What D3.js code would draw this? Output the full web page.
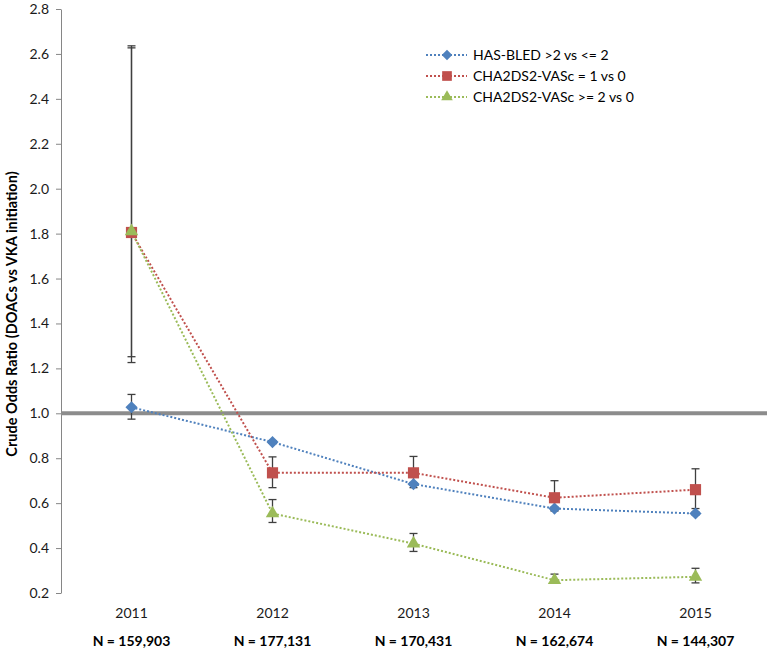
<!DOCTYPE html>
<html><head><meta charset="utf-8">
<script src="https://cdn.jsdelivr.net/npm/d3@7"></script>
<style>
body{margin:0;background:#fff}
text{font-family:Lato,"Open Sans",sans-serif}
</style>
</head><body>
<svg id="c" width="767" height="649"></svg>
<script>
const years = ["2011","2012","2013","2014","2015"];
const nLabels = ["N = 159,903","N = 177,131","N = 170,431","N = 162,674","N = 144,307"];
const yTicks = [0.2,0.4,0.6,0.8,1.0,1.2,1.4,1.6,1.8,2.0,2.2,2.4,2.6,2.8];
const seriesNames = ["HAS-BLED >2 vs <= 2","CHA2DS2-VASc = 1 vs 0","CHA2DS2-VASc >= 2 vs 0"];
const hasbledVal = [1.027,0.872,0.685,0.576,0.554];
const hasbledLo  = [0.974,0.866,0.679,0.570,0.548];
const hasbledHi  = [1.084,0.878,0.691,0.582,0.560];
const cha1Val = [1.805,0.735,0.735,0.624,0.660];
const cha1Lo  = [1.226,0.669,0.669,0.565,0.576];
const cha1Hi  = [2.636,0.806,0.808,0.700,0.753];
const cha2Val = [1.810,0.554,0.420,0.257,0.272];
const cha2Lo  = [1.252,0.514,0.385,0.245,0.245];
const cha2Hi  = [2.627,0.616,0.465,0.284,0.310];
const refValue = 1.0;

const svg = d3.select("#c");
const mLeft = 61, mRight = 766, mTop = 9, mBottom = 593;
const x = d3.scaleBand().domain(years).range([mLeft, mRight]);
const y = d3.scaleLinear().domain([0.2, 2.8]).range([mBottom, mTop]);
const cx = d => x(d) + x.bandwidth()/2;

const series = [
  {name: seriesNames[0], val: hasbledVal, lo: hasbledLo, hi: hasbledHi, color: "#4F81BD", shape: "diamond"},
  {name: seriesNames[1], val: cha1Val, lo: cha1Lo, hi: cha1Hi, color: "#C0504D", shape: "square"},
  {name: seriesNames[2], val: cha2Val, lo: cha2Lo, hi: cha2Hi, color: "#9BBB59", shape: "triangle"}
];

function symPath(shape, scale){
  if(shape==="diamond") return d3.symbol(d3.symbolSquare, 74*scale)();
  if(shape==="square") return d3.symbol(d3.symbolSquare, 125*scale)();
  return d3.symbol(d3.symbolTriangle, 78*scale)();
}
function symTransform(shape, px, py){
  return shape==="diamond" ? `translate(${px},${py}) rotate(45)` : `translate(${px},${py})`;
}

// Y axis
const yAxis = svg.append("g").attr("transform", `translate(${mLeft},0)`)
  .call(d3.axisLeft(y).tickValues(yTicks).tickFormat(d3.format(".1f")).tickSize(5).tickSizeOuter(0).tickPadding(7));
yAxis.select(".domain").attr("stroke", "#868686").attr("stroke-width", 1);
yAxis.selectAll(".tick line").attr("stroke", "#868686");
yAxis.selectAll("text").attr("font-size", 14).attr("fill", "#1a1a1a").style("font-family","Lato,'Open Sans',sans-serif");

// X axis labels (no line)
const xAxis = svg.append("g").attr("transform", `translate(0,${mBottom})`)
  .call(d3.axisBottom(x).tickSize(0).tickPadding(15));
xAxis.select(".domain").remove();
xAxis.selectAll("text").attr("font-size", 14).attr("fill", "#1a1a1a").style("font-family","Lato,'Open Sans',sans-serif");

svg.append("g").selectAll("text").data(years).join("text")
  .attr("x", d => cx(d)).attr("y", 646)
  .attr("text-anchor", "middle").attr("font-size", 14).attr("font-weight", "bold").attr("fill", "#000")
  .text((d,i) => nLabels[i]);

// Y title
svg.append("text")
  .attr("transform", `translate(13,314) rotate(-90)`)
  .attr("text-anchor", "middle").attr("dominant-baseline", "middle")
  .attr("font-size", 14.5).attr("font-weight", "bold").attr("fill", "#000")
  .text("Crude Odds Ratio (DOACs vs VKA initiation)");

// Reference line
svg.append("line").attr("x1", mLeft).attr("x2", 767).attr("y1", y(refValue)).attr("y2", y(refValue))
  .attr("stroke", "#8c8c8c").attr("stroke-width", 4);

// Lines
const line = d3.line().x((d,i) => cx(years[i])).y(d => y(d));
series.forEach(s => {
  svg.append("path").datum(s.val).attr("d", line).attr("fill", "none")
    .attr("stroke", s.color).attr("stroke-width", 2).attr("stroke-dasharray", "2,2");
});

// Error bars
series.forEach(s => {
  const g = svg.append("g").attr("stroke", "#3f3f3f").attr("stroke-width", 1.3);
  years.forEach((yr, i) => {
    const px = cx(yr);
    g.append("line").attr("x1", px).attr("x2", px).attr("y1", y(s.lo[i])).attr("y2", y(s.hi[i]));
    [s.lo[i], s.hi[i]].forEach(v => {
      g.append("line").attr("x1", px-4).attr("x2", px+4).attr("y1", y(v)).attr("y2", y(v));
    });
  });
});

// Markers
series.forEach(s => {
  svg.append("g").selectAll("path").data(s.val).join("path")
    .attr("d", symPath(s.shape, 1))
    .attr("transform", (d,i) => symTransform(s.shape, cx(years[i]), y(d)))
    .attr("fill", s.color);
});

// Legend
const legRows = [55, 76, 97];
series.forEach((s, i) => {
  const g = svg.append("g").attr("transform", `translate(0,${legRows[i]})`);
  g.append("line").attr("x1", 426).attr("x2", 467).attr("y1", 0).attr("y2", 0)
    .attr("stroke", s.color).attr("stroke-width", 2).attr("stroke-dasharray", "2,2");
  g.append("path").attr("d", symPath(s.shape, 0.75)).attr("transform", symTransform(s.shape, 447, 0)).attr("fill", s.color);
  g.append("text").attr("x", 473).attr("y", 0).attr("dy", "0.35em")
    .attr("font-size", 14).attr("fill", "#000").text(s.name);
});
</script>
</body></html>
